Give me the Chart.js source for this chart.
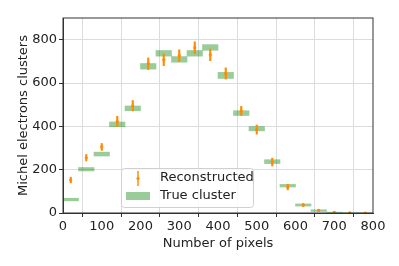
<!DOCTYPE html>
<html>
<head>
<meta charset="utf-8">
<script src="https://cdn.jsdelivr.net/npm/chart.js@4"></script>
<style>
  html, body { margin: 0; padding: 0; background: #fff; }
  #wrap { width: 399px; height: 266px; }
</style>
</head>
<body>
<div id="wrap"><canvas id="pixChart" width="399" height="266"></canvas></div>
<script>
// bin centres, bins are 40 pixels wide
const binCenters = [20, 60, 100, 140, 180, 220, 260, 300, 340, 380, 420, 460, 500, 540, 580, 620, 660, 700, 740, 780];
const trueValues = [62, 202, 272, 409, 483, 677, 737, 709, 737, 764, 635, 461, 389, 237, 126, 37, 11, 2, 0, 0];
const trueErrors = [6, 8, 9, 11, 11, 13, 13, 13, 13, 13, 14, 11, 10, 9, 6, 5, 4, 2, 1, 1];
const recoValues = [152, 255, 305, 423, 495, 689, 707, 726, 763, 730, 644, 471, 385, 235, 120, 37, 12, 3, 1, 0];
const recoErrors = [13, 15, 16, 23, 24, 27, 27, 27, 27, 27, 26, 21, 21, 18, 13, 7, 5, 2, 1, 1];
const xTicks = [0, 100, 200, 300, 400, 500, 600, 700, 800];
const yTicks = [0, 200, 400, 600, 800];

const GREEN = 'rgba(0, 128, 0, 0.4)';
const ORANGE = 'rgb(255, 140, 0)';
const FONT = { family: 'DejaVu Sans', size: 13 };

const frame = {
    id: 'frame',
    afterDatasetsDraw(chart) {
        const { ctx, chartArea: a } = chart;
        ctx.save();
        ctx.strokeStyle = '#333';
        ctx.lineWidth = 1;
        ctx.strokeRect(a.left, a.top, a.right - a.left, a.bottom - a.top);
        ctx.restore();
    }
};

const boxLegend = {
    id: 'boxLegend',
    afterDraw(chart) {
        const ctx = chart.ctx;
        ctx.save();
        ctx.beginPath();
        ctx.roundRect(121.5, 168.5, 132, 39, 3);
        ctx.fillStyle = 'rgba(255,255,255,0.8)';
        ctx.fill();
        ctx.strokeStyle = '#d0d0d0';
        ctx.lineWidth = 1;
        ctx.stroke();

        ctx.strokeStyle = ORANGE;
        ctx.lineWidth = 1.5;
        ctx.beginPath();
        ctx.moveTo(138, 171);
        ctx.lineTo(138, 186);
        ctx.stroke();
        ctx.fillStyle = ORANGE;
        ctx.beginPath();
        ctx.arc(138, 178.5, 1.6, 0, Math.PI * 2);
        ctx.fill();

        ctx.fillStyle = GREEN;
        ctx.fillRect(126, 192, 24, 8);

        ctx.fillStyle = '#222';
        ctx.font = '13px "DejaVu Sans"';
        ctx.textBaseline = 'middle';
        ctx.fillText('Reconstructed', 160, 178);
        ctx.fillText('True cluster', 160, 196);
        ctx.restore();
    }
};

new Chart(document.getElementById('pixChart'), {
    type: 'bar',
    data: {
        datasets: [
            {
                label: 'True cluster',
                data: binCenters.map((x, i) => ({ x: x, y: [trueValues[i] - trueErrors[i], trueValues[i] + trueErrors[i]] })),
                backgroundColor: GREEN,
                borderWidth: 0,
                barPercentage: 1,
                categoryPercentage: 1,
                grouped: false,
                order: 3
            },
            {
                label: 'Reconstructed error',
                data: binCenters.map((x, i) => ({ x: x, y: [recoValues[i] - recoErrors[i], recoValues[i] + recoErrors[i]] })),
                backgroundColor: ORANGE,
                borderWidth: 0,
                barThickness: 1.5,
                grouped: false,
                order: 2
            },
            {
                type: 'scatter',
                label: 'Reconstructed',
                data: binCenters.map((x, i) => ({ x: x, y: recoValues[i] })),
                backgroundColor: ORANGE,
                borderColor: ORANGE,
                pointRadius: 1.6,
                pointBorderWidth: 0,
                order: 1
            }
        ]
    },
    options: {
        responsive: false,
        animation: false,
        layout: { padding: { left: 0, top: 18, right: 26, bottom: 0 } },
        plugins: {
            legend: { display: false },
            tooltip: { enabled: false }
        },
        scales: {
            x: {
                type: 'linear',
                min: 0,
                max: 800,
                offset: false,
                afterBuildTicks: (s) => { s.ticks = xTicks.map(v => ({ value: v })); },
                afterFit: (s) => { s.height = 53; },
                ticks: { font: FONT, color: '#222', padding: 2, maxRotation: 0 },
                grid: { color: '#dcdcdc', tickColor: '#333', tickLength: 4 },
                border: { color: '#333' },
                title: { display: true, text: 'Number of pixels', font: FONT, color: '#222', padding: { top: 0, bottom: 15 } }
            },
            y: {
                min: 0,
                max: 900,
                afterBuildTicks: (s) => { s.ticks = yTicks.map(v => ({ value: v })); },
                afterFit: (s) => { s.width = 63; },
                ticks: { font: FONT, color: '#222', padding: 2 },
                grid: { color: '#dcdcdc', tickColor: '#333', tickLength: 4 },
                border: { color: '#333' },
                title: { display: true, text: 'Michel electrons clusters', font: FONT, color: '#222', padding: { top: 16, bottom: 0 } }
            }
        }
    },
    plugins: [frame, boxLegend]
});
</script>
</body>
</html>
